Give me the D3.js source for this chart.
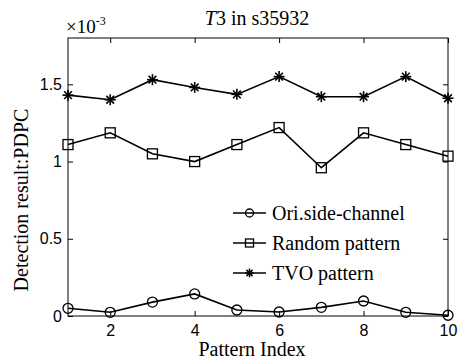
<!DOCTYPE html>
<html><head><meta charset="utf-8">
<script src="https://cdn.jsdelivr.net/npm/d3@7"></script>
<style>body{margin:0;background:#fff}svg{display:block}</style>
</head><body>
<script>
const patternIndex = [1,2,3,4,5,6,7,8,9,10];
const oriSideChannel = [0.050,0.024,0.090,0.143,0.039,0.026,0.056,0.097,0.024,0.005];
const randomPattern = [1.11,1.186,1.05,1.00,1.11,1.22,0.96,1.186,1.11,1.035];
const tvoPattern = [1.43,1.40,1.53,1.48,1.435,1.55,1.42,1.42,1.55,1.41];
const xTicks = [2,4,6,8,10];
const yTicks = [0,0.5,1,1.5];
const seriesNames = ["Ori.side-channel","Random pattern","TVO pattern"];

const W=459,H=363;
const m={l:68,r:11,t:38,b:47};
const svg=d3.select("body").append("svg").attr("width",W).attr("height",H);
const x=d3.scaleLinear().domain([1,10]).range([m.l,W-m.r]);
const y=d3.scaleLinear().domain([0,1.8]).range([H-m.b,m.t]);
const serif="'Liberation Serif','Times New Roman',serif";
const sans="'Liberation Sans',Arial,sans-serif";

// box
svg.append("rect").attr("x",m.l).attr("y",m.t).attr("width",x(10)-m.l).attr("height",y(0)-m.t)
  .attr("fill","none").attr("stroke","#000").attr("stroke-width",1);

svg.append("g").attr("transform",`translate(0,${y(0)})`)
  .call(d3.axisBottom(x).tickValues(xTicks).tickSize(-5).tickPadding(9).tickFormat(d3.format("d")));
svg.append("g").attr("transform",`translate(${m.l},0)`)
  .call(d3.axisLeft(y).tickValues(yTicks).tickSize(-5).tickPadding(6).tickFormat(d=>d===0?"0":String(d)));
// mirrored ticks
svg.append("g").attr("transform",`translate(0,${m.t})`)
  .call(d3.axisTop(x).tickValues(xTicks).tickSize(-5).tickFormat(""));
svg.append("g").attr("transform",`translate(${x(10)},0)`)
  .call(d3.axisRight(y).tickValues(yTicks).tickSize(-5).tickFormat(""));
svg.selectAll(".domain").remove();
svg.selectAll(".tick line").attr("stroke","#000");
svg.selectAll(".tick text").attr("font-family",sans).attr("font-size",16).attr("fill","#000");

// exponent
const ex=svg.append("text").attr("x",66).attr("y",33).attr("font-family",serif).attr("font-size",19);
ex.append("tspan").text("×10");
ex.append("tspan").attr("dy",-8).attr("font-size",12).text("-3");

// title
const t=svg.append("text").attr("x",257).attr("y",25).attr("text-anchor","middle")
  .attr("font-family",serif).attr("font-size",20);
t.append("tspan").attr("font-style","italic").text("T");
t.append("tspan").text("3 in s35932");

svg.append("text").attr("x",252).attr("y",356).attr("text-anchor","middle")
  .attr("font-family",serif).attr("font-size",20).text("Pattern Index");
svg.append("text").attr("transform",`translate(28,200) rotate(-90)`).attr("text-anchor","middle")
  .attr("font-family",serif).attr("font-size",20).text("Detection result:PDPC");

const line=d3.line().x((d,i)=>x(patternIndex[i])).y(d=>y(d));
const data=[oriSideChannel,randomPattern,tvoPattern];
const markers=["circle","square","star"];

function drawMarker(g,type,cx,cy,s=1){
  if(type==="circle") g.append("circle").attr("cx",cx).attr("cy",cy).attr("r",5*s).attr("fill","none").attr("stroke","#000").attr("stroke-width",1.3);
  else if(type==="square") g.append("rect").attr("x",cx-5*s).attr("y",cy-5*s).attr("width",10*s).attr("height",10*s).attr("fill","none").attr("stroke","#000").attr("stroke-width",1.3);
  else {
    const r=5.5*s;
    const p=[[0,-r,0,r],[-r,0,r,0],[-r*0.7,-r*0.7,r*0.7,r*0.7],[-r*0.7,r*0.7,r*0.7,-r*0.7]];
    p.forEach(q=>g.append("line").attr("x1",cx+q[0]).attr("y1",cy+q[1]).attr("x2",cx+q[2]).attr("y2",cy+q[3]).attr("stroke","#000").attr("stroke-width",1.6));
  }
}

data.forEach((s,k)=>{
  const g=svg.append("g");
  g.append("path").attr("d",line(s)).attr("fill","none").attr("stroke","#000").attr("stroke-width",1.6);
  s.forEach((v,i)=>drawMarker(g,markers[k],x(patternIndex[i]),y(v)));
});

// legend
const ly=[213,243,273];
seriesNames.forEach((n,k)=>{
  const g=svg.append("g");
  g.append("line").attr("x1",233).attr("x2",266).attr("y1",ly[k]).attr("y2",ly[k]).attr("stroke","#000").attr("stroke-width",1.6);
  drawMarker(g,markers[k],249.5,ly[k],0.8);
  g.append("text").attr("x",272).attr("y",ly[k]+7).attr("font-family",serif).attr("font-size",20).text(n);
});
</script>
</body></html>
